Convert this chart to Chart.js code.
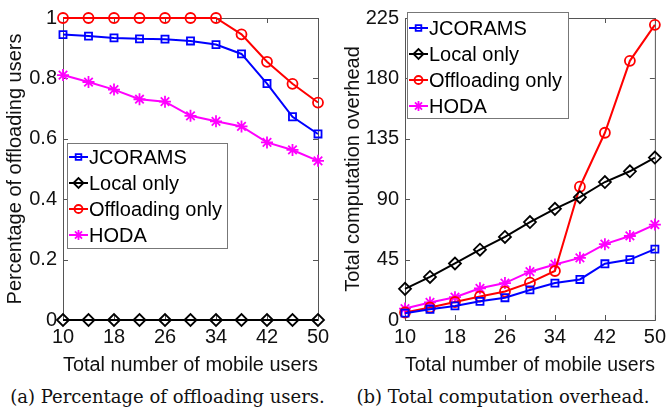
<!DOCTYPE html>
<html><head><meta charset="utf-8">
<script src="https://cdn.jsdelivr.net/npm/chart.js@4"></script>
<style>
body{margin:0;background:#fff;width:671px;height:416px;overflow:hidden;position:relative}
.box{position:absolute;top:0}
.cap{position:absolute;top:386px;font-family:"DejaVu Serif",serif;font-size:18px;color:#111;white-space:nowrap;text-align:center}
</style></head><body>
<div class="box" style="left:0"><canvas id="c1" width="335" height="378"></canvas></div>
<div class="box" style="left:335px"><canvas id="c2" width="336" height="378"></canvas></div>
<div class="cap" style="left:0;width:335px">(a) Percentage of offloading users.</div>
<div class="cap" style="left:335px;width:336px">(b) Total computation overhead.</div>
<script>
const users = [10,14,18,22,26,30,34,38,42,46,50];
const xTicks = [10,18,26,34,42,50];
const seriesNames = ['JCORAMS','Local only','Offloading only','HODA'];
const pctTicks = [0,0.2,0.4,0.6,0.8,1];
const ohTicks = [0,45,90,135,180,225];
const pctJcorams = [0.945,0.940,0.934,0.931,0.930,0.924,0.912,0.881,0.783,0.673,0.616];
const pctLocal   = [0,0,0,0,0,0,0,0,0,0,0];
const pctOffload = [1,1,1,1,1,1,1,0.946,0.855,0.782,0.720];
const pctHoda    = [0.811,0.788,0.763,0.731,0.723,0.676,0.658,0.641,0.588,0.563,0.527];
const ohJcorams = [5.1,8.0,10.5,13.9,16.6,22.4,27.5,30.2,41.9,45.0,52.8];
const ohLocal   = [23.2,32.1,42.1,52.4,61.9,73.0,82.8,91.5,102.8,110.8,121.0];
const ohOffload = [5.6,9.3,13.4,17.5,21.2,27.8,36.5,99.3,139.5,193.1,219.9];
const ohHoda    = [8.5,13.1,17.0,23.6,27.5,36.0,41.4,46.3,56.5,62.6,71.1];

const styles = [
  {color:'#0000ff', pointStyle:'rect', radius:5},
  {color:'#000000', pointStyle:'rectRot', radius:6},
  {color:'#ff0000', pointStyle:'circle', radius:5},
  {color:'#ff00ff', pointStyle:'star', radius:6}
];
const FONT = '"Liberation Sans", Arial, sans-serif';
const AXC = '#555';

function makeDatasets(arrs){
  return arrs.map((vals,i)=>({
    label: seriesNames[i],
    data: users.map((u,k)=>({x:u,y:vals[k]})),
    borderColor: styles[i].color,
    backgroundColor: 'transparent',
    pointBackgroundColor: 'transparent',
    pointBorderColor: styles[i].color,
    pointStyle: styles[i].pointStyle,
    pointRadius: styles[i].radius,
    pointBorderWidth: 1.8,
    borderWidth: 2,
    tension: 0,
    clip: false
  }));
}

const framePlugin = {
  id:'frame',
  beforeDatasetsDraw(chart){
    const {ctx, chartArea:a, scales} = chart;
    ctx.save();
    ctx.strokeStyle = AXC; ctx.lineWidth = 1;
    ctx.strokeRect(a.left+0.5, a.top+0.5, a.right-a.left, a.bottom-a.top);
    const tl = 5;
    ctx.beginPath();
    scales.x.ticks.forEach(t=>{
      const px = Math.round(scales.x.getPixelForValue(t.value))+0.5;
      ctx.moveTo(px,a.bottom); ctx.lineTo(px,a.bottom-tl);
      ctx.moveTo(px,a.top); ctx.lineTo(px,a.top+tl);
    });
    scales.y.ticks.forEach(t=>{
      const py = Math.round(scales.y.getPixelForValue(t.value))+0.5;
      ctx.moveTo(a.left,py); ctx.lineTo(a.left+tl,py);
      ctx.moveTo(a.right,py); ctx.lineTo(a.right-tl,py);
    });
    ctx.stroke();
    ctx.restore();
  }
};

const legendPlugin = {
  id:'boxlegend',
  afterDraw(chart, args, opts){
    const {ctx, chartArea:a} = chart;
    const L = a.left + opts.dx, T = opts.top, W = opts.w, H = opts.h;
    ctx.save();
    ctx.fillStyle = '#fff';
    ctx.fillRect(L, T, W, H);
    ctx.strokeStyle = '#777'; ctx.lineWidth = 1;
    ctx.strokeRect(L+0.5, T+0.5, W, H);
    ctx.font = '20px ' + FONT;
    ctx.textBaseline = 'middle';
    ctx.textAlign = 'left';
    chart.data.datasets.forEach((ds,i)=>{
      const cy = T + opts.first + i*26;
      const st = styles[i];
      ctx.strokeStyle = st.color; ctx.lineWidth = 2;
      ctx.beginPath(); ctx.moveTo(L+2, cy); ctx.lineTo(L+21, cy); ctx.stroke();
      ctx.lineWidth = 1.8;
      ctx.fillStyle = 'rgba(0,0,0,0)';
      ctx.strokeStyle = st.color;
      Chart.helpers.drawPoint(ctx, {pointStyle: st.pointStyle, radius: st.radius-1, borderWidth:1.8, rotation:0}, L+11.5, cy);
      ctx.fillStyle = '#000';
      ctx.fillText(ds.label, L+22, cy+1);
    });
    ctx.restore();
  }
};

function makeChart(id, arrs, yTicks, yMax, yTitle, yFmt, yWidth, rightPad, titlePad, legendOpts){
  return new Chart(document.getElementById(id), {
    type:'line',
    data:{datasets: makeDatasets(arrs)},
    plugins:[framePlugin, legendPlugin],
    options:{
      responsive:false, animation:false,
      layout:{padding:{left:0, right:rightPad, top:12, bottom:0}},
      plugins:{legend:{display:false}, tooltip:{enabled:false}, boxlegend:legendOpts},
      scales:{
        x:{type:'linear', min:10, max:50,
          afterBuildTicks:s=>{s.ticks = xTicks.map(v=>({value:v}));},
          afterFit:s=>{s.height = 58;},
          grid:{display:false, drawTicks:false}, border:{display:false},
          ticks:{padding:5, color:'#111', font:{family:FONT, size:20}, autoSkip:false, maxRotation:0},
          title:{display:true, text:'Total number of mobile users', color:'#111', font:{family:FONT, size:20}, padding:{top:0,bottom:1}}
        },
        y:{type:'linear', min:0, max:yMax,
          afterBuildTicks:s=>{s.ticks = yTicks.map(v=>({value:v}));},
          afterFit:s=>{s.width = yWidth;},
          grid:{display:false, drawTicks:false}, border:{display:false},
          ticks:{padding:6, color:'#111', font:{family:FONT, size:20}, callback:yFmt},
          title:{display:true, text:yTitle, color:'#111', font:{family:FONT, size:20}, padding:{top:titlePad,bottom:0}}
        }
      }
    }
  });
}

makeChart('c1', [pctJcorams,pctLocal,pctOffload,pctHoda], pctTicks, 1,
  'Percentage of offloading users', v=>String(v), 63, 17, 3,
  {dx:4, top:143, w:160, h:105, first:14});
makeChart('c2', [ohJcorams,ohLocal,ohOffload,ohHoda], ohTicks, 225,
  'Total computation overhead', v=>String(v), 70, 11, 6,
  {dx:2, top:12, w:161, h:106, first:16});
</script>
</body></html>
